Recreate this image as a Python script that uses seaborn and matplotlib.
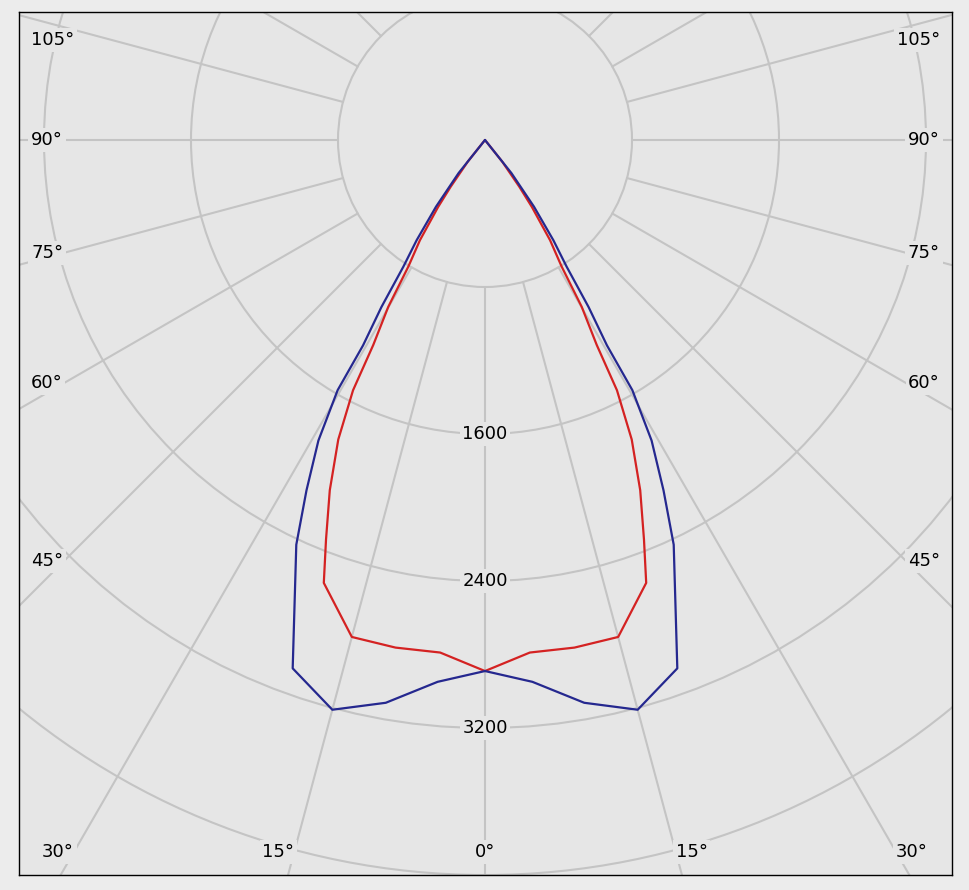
import numpy as np
import pandas as pd
import matplotlib
matplotlib.use('Agg')
import matplotlib.pyplot as plt
import seaborn as sns
from matplotlib.patches import Circle

# Luminous intensity (cd), one half of each plane (symmetric)
blue_angles = [0, 5, 10, 15, 20, 25, 27, 29, 30.5, 30.7, 31.8, 32.8, 34.3, 36.3, 38.6, 90]
blue_cd = [2890, 2960, 3110, 3210, 3060, 2430, 2140, 1870, 1580, 1300, 1070, 820, 660, 450, 230, 0]
red_angles = [0, 5, 10, 15, 20, 21.7, 23.9, 26.1, 27.8, 28.6, 30.1, 31.2, 33, 35, 36.3, 38.5, 90]
red_cd = [2890, 2800, 2805, 2800, 2565, 2340, 2085, 1815, 1540, 1270, 1050, 805, 650, 445, 315, 150, 0]

ring_values = [800, 1600, 2400, 3200, 4000, 4800]
ring_labels = [1600, 2400, 3200]
spoke_angles = list(range(0, 360, 15))
label_angles = [0, 15, 30, 45, 60, 75, 90, 105]

BG = '#e6e6e6'
GRID = '#c4c4c4'
PX = 800 / 147  # cd per pixel


def to_xy(angles, values):
    """Mirror one half-plane and convert to cartesian (0 deg pointing down)"""
    a = np.array(angles, dtype=float)
    v = np.array(values, dtype=float)
    th = np.concatenate([-a[::-1], a[1:]])
    r = np.concatenate([v[::-1], v[1:]])
    t = np.radians(th)
    return r * np.sin(t), -r * np.cos(t)


sns.set_theme(style='white')
plt.rcParams['font.family'] = ['DejaVu Sans']

fig = plt.figure(figsize=(9.69, 8.90), dpi=100, facecolor='#ececec')
ax = fig.add_axes([19 / 969, 15 / 890, 933 / 969, 863 / 890])
ax.set_facecolor(BG)
ax.set_xlim(-466 * PX, 467 * PX)
ax.set_ylim(-735 * PX, 128 * PX)
ax.set_xticks([])
ax.set_yticks([])
for sp in ax.spines.values():
    sp.set_color('black')
    sp.set_linewidth(1)

# grid: rings and spokes (spokes start at the first ring)
for rv in ring_values:
    ax.add_patch(Circle((0, 0), rv, fill=False, ec=GRID, lw=1.5, zorder=1))
for a in spoke_angles:
    t = np.radians(a)
    r0, r1 = ring_values[0], 6000
    ax.plot([r0 * np.sin(t), r1 * np.sin(t)], [-r0 * np.cos(t), -r1 * np.cos(t)],
            color=GRID, lw=1.5, zorder=1)

# curves
bx, by = to_xy(blue_angles, blue_cd)
rx, ry = to_xy(red_angles, red_cd)
df = pd.concat([
    pd.DataFrame({'x': rx, 'y': ry, 'plane': 'C90-C270'}),
    pd.DataFrame({'x': bx, 'y': by, 'plane': 'C0-C180'}),
], ignore_index=True)
sns.lineplot(data=df, x='x', y='y', hue='plane', sort=False, estimator=None,
             palette={'C90-C270': '#d42222', 'C0-C180': '#25288f'},
             hue_order=['C90-C270', 'C0-C180'], lw=1.6, legend=False, ax=ax, zorder=3)
ax.set_xlabel('')
ax.set_ylabel('')

box = dict(facecolor=BG, edgecolor='none', pad=2)

# ring labels along the 0 deg spoke
for rv in ring_labels:
    ax.text(0, -rv, str(rv), ha='center', va='center', fontsize=13,
            color='black', bbox=box, zorder=4)

# angle labels around the frame
for a in label_angles:
    t = np.radians(a)
    for side in (-1, 1):
        if a == 0 and side == 1:
            continue
        if a < 90 and 712 * np.tan(t) <= 421:
            x = side * 712 * np.tan(t) * PX
            y = -712 * PX
            ha = 'center' if a == 0 else ('right' if side < 0 else 'left')
        else:
            y_px = min(-421 * np.cos(t) / np.sin(t), 100)
            y = y_px * PX
            x = -454 * PX if side < 0 else 455 * PX
            ha = 'left' if side < 0 else 'right'
        ax.text(x, y, f'{a}°', ha=ha, va='center', fontsize=13,
                color='black', bbox=box, zorder=4)

fig.savefig('out.png', dpi=100, facecolor=fig.get_facecolor())
